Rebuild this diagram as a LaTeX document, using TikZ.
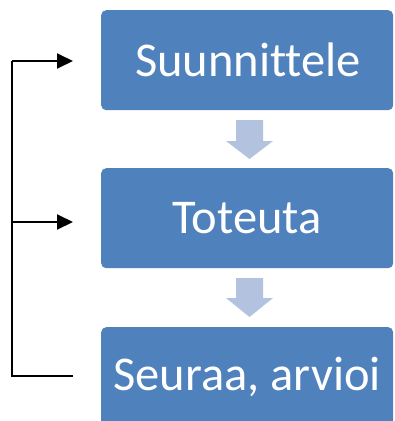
\documentclass[tikz,border=0pt]{standalone}
\usepackage{fontspec}
\setmainfont{Carlito}[Ligatures=NoCommon]
\usetikzlibrary{arrows.meta}
\definecolor{boxblue}{HTML}{4F81BD}
\definecolor{arrowblue}{HTML}{B3C3DF}
\tikzset{
  stagebox/.style={fill=boxblue, draw=none, rounded corners=5pt, minimum width=292pt, minimum height=100pt, inner sep=0pt, anchor=north west},
  stagetext/.style={text=white, font=\fontsize{48.5}{58}\selectfont},
  blockarrow/.style={fill=arrowblue, draw=none},
  feedback/.style={line width=2pt, black},
  feedtip/.style={feedback, -{Triangle[length=16pt,width=15pt]}}
}
\begin{document}
\begin{tikzpicture}[x=1pt,y=-1pt]
\clip (0,0) rectangle (395,421);
\fill[white] (0,0) rectangle (395,421);
\node[stagebox] (s1) at (101,10) {};
\node[stagetext] (t1) at ([xshift=1pt]s1.center) {Suunnittele};
\node[stagebox] (s2) at (101,168) {};
\node[stagetext] (t2) at (s2.center) {Toteuta};
\node[stagebox] (s3) at (101,327) {};
\node[stagetext] (t3) at (s3.center) {Seuraa, arvioi};
% block arrows
\fill[blockarrow] (236,120) -- (263,120) -- (263,141) -- (273,141) -- (249.5,159) -- (226,141) -- (236,141) -- cycle;
\fill[blockarrow] (236,278) -- (263,278) -- (263,298) -- (273,298) -- (249.5,317) -- (226,298) -- (236,298) -- cycle;
% feedback
\coordinate (a1) at (12,61);
\coordinate (a2) at (12,222);
\coordinate (a3) at (12,376);
\coordinate (e1) at (73,61);
\coordinate (e2) at (73,222);
\coordinate (e3) at (73,376);
\draw[feedback] (e3) -- (a3) -- (a1);
\draw[feedtip] (a1) -- (e1);
\draw[feedtip] (a2) -- (e2);
\end{tikzpicture}
\end{document}
